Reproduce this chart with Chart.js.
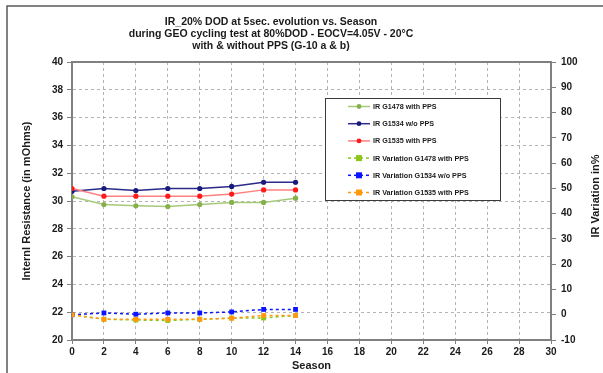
<!DOCTYPE html>
<html>
<head>
<meta charset="utf-8">
<script src="https://cdn.jsdelivr.net/npm/chart.js@4/dist/chart.umd.min.js"></script>
<style>
  html, body { margin: 0; padding: 0; background: #fff; }
  #wrap { width: 603px; height: 373px; position: relative; }
</style>
</head>
<body>
<div id="wrap"><canvas id="c"></canvas></div>
<script>
/* IR 20% DOD evolution vs season - GEO cycling */
var TITLE_LINES = [
  'IR_20% DOD at 5sec. evolution vs. Season',
  'during GEO cycling test at 80%DOD - EOCV=4.05V - 20°C',
  'with & without PPS (G-10 a & b)'
];
var SEASONS = [0, 2, 4, 6, 8, 10, 12, 14];

// internal resistance, mOhms (left axis)
var IR_G1478 = [30.3, 29.75, 29.65, 29.6, 29.75, 29.9, 29.9, 30.2];
var IR_G1534 = [30.7, 30.9, 30.75, 30.9, 30.9, 31.05, 31.35, 31.35];
var IR_G1535 = [30.9, 30.35, 30.35, 30.35, 30.35, 30.5, 30.8, 30.8];

// IR variation, % (right axis)
var VAR_G1478 = [0, -1.8, -2.1, -2.3, -1.8, -1.3, -1.3, -0.3];
var VAR_G1534 = [0, 0.7, 0.2, 0.7, 0.7, 1.1, 2.1, 2.1];
var VAR_G1535 = [0, -1.8, -1.8, -1.8, -1.8, -1.4, -0.3, -0.3];

var LABELS = [
  'IR G1478 with PPS', 'IR G1534 w/o PPS', 'IR G1535 with PPS',
  'IR Variation G1478 with PPS', 'IR Variation G1534 w/o PPS', 'IR Variation G1535 with PPS'
];

var FONT = 'Liberation Sans, Arial, Helvetica, sans-serif';
var TXT = '#1a1a1a';

function pts(vals) {
  return vals.map(function (v, i) { return { x: SEASONS[i], y: v }; });
}

function irSet(label, vals, line, dot, order) {
  return {
    label: label, data: pts(vals), yAxisID: 'y', order: order,
    borderColor: line, backgroundColor: dot, borderWidth: 1.5,
    pointStyle: 'circle', pointRadius: 2.6, pointBackgroundColor: dot, pointBorderColor: dot, pointBorderWidth: 0,
    tension: 0
  };
}
function varSet(label, vals, col, order) {
  return {
    label: label, data: pts(vals), yAxisID: 'y2', order: order,
    borderColor: col, backgroundColor: col, borderWidth: 1.5, borderDash: [3, 3],
    pointStyle: 'rect', pointRadius: 3.4, pointBackgroundColor: col, pointBorderColor: col, pointBorderWidth: 0,
    tension: 0
  };
}

var datasets = [
  irSet(LABELS[0], IR_G1478, '#a6c97a', '#86b04a', 6),
  irSet(LABELS[1], IR_G1534, '#2a2a8a', '#1a1a7a', 5),
  irSet(LABELS[2], IR_G1535, '#ff8080', '#ff1a1a', 4),
  varSet(LABELS[3], VAR_G1478, '#8cc61a', 3),
  varSet(LABELS[4], VAR_G1534, '#0a14ff', 2),
  varSet(LABELS[5], VAR_G1535, '#ff9a10', 1)
];

// frame, title, top border, right title, legend box
var decor = {
  id: 'decor',
  beforeDraw: function (chart) {
    var ctx = chart.ctx;
    ctx.save();
    ctx.fillStyle = '#fff';
    ctx.fillRect(0, 0, chart.width, chart.height);
    ctx.strokeStyle = '#5a5a5a';
    ctx.lineWidth = 1.5;
    ctx.beginPath();
    ctx.moveTo(7, chart.height + 2);
    ctx.lineTo(7, 6);
    ctx.lineTo(chart.width + 2, 6);
    ctx.stroke();
    ctx.restore();
  },
  afterDraw: function (chart) {
    var ctx = chart.ctx, a = chart.chartArea;
    ctx.save();
    // top border of plot area
    ctx.strokeStyle = '#808080';
    ctx.lineWidth = 2;
    ctx.beginPath();
    ctx.moveTo(a.left, a.top);
    ctx.lineTo(a.right, a.top);
    ctx.stroke();

    // title
    ctx.fillStyle = TXT;
    ctx.font = 'bold 10.5px ' + FONT;
    ctx.textAlign = 'center';
    ctx.textBaseline = 'middle';
    TITLE_LINES.forEach(function (t, i) { ctx.fillText(t, 271, 22 + i * 12); });

    // right axis title, reading bottom to top
    ctx.save();
    ctx.translate(596, 196);
    ctx.rotate(-Math.PI / 2);
    ctx.font = 'bold 11px ' + FONT;
    ctx.fillText('IR Variation in%', 0, 0);
    ctx.restore();

    // legend
    var bx = 325, by = 98, bw = 175, bh = 102;
    ctx.fillStyle = '#fff';
    ctx.fillRect(bx, by, bw, bh);
    ctx.strokeStyle = '#3a3a3a';
    ctx.lineWidth = 1;
    ctx.strokeRect(bx + 0.5, by + 0.5, bw, bh);
    ctx.font = 'bold 7.2px ' + FONT;
    ctx.textAlign = 'left';
    chart.data.datasets.forEach(function (ds, i) {
      var y = 106.5 + i * 17.2;
      ctx.strokeStyle = ds.borderColor;
      ctx.lineWidth = ds.borderWidth;
      ctx.setLineDash(ds.borderDash || []);
      ctx.beginPath();
      ctx.moveTo(348, y);
      ctx.lineTo(370, y);
      ctx.stroke();
      ctx.setLineDash([]);
      ctx.fillStyle = ds.pointBackgroundColor;
      if (ds.pointStyle === 'rect') {
        ctx.fillRect(359 - 3, y - 3, 6, 6);
      } else {
        ctx.beginPath();
        ctx.arc(359, y, 2.4, 0, Math.PI * 2);
        ctx.fill();
      }
      ctx.fillStyle = TXT;
      ctx.fillText(ds.label, 373, y + 0.5);
    });
    ctx.restore();
  }
};

Chart.defaults.font.family = FONT;
Chart.defaults.color = TXT;

new Chart(document.getElementById('c').getContext('2d'), {
  type: 'line',
  data: { datasets: datasets },
  plugins: [decor],
  options: {
    responsive: true, maintainAspectRatio: false, animation: false,
    layout: { padding: { left: 0, top: 62, right: 0, bottom: 0 } },
    plugins: { legend: { display: false }, title: { display: false }, tooltip: { enabled: false } },
    scales: {
      x: {
        type: 'linear', min: 0, max: 30,
        ticks: { stepSize: 2, padding: 2, font: { size: 10, weight: 'bold' }, maxRotation: 0 },
        grid: { color: '#b4b4b4', tickLength: 4, tickColor: '#808080', tickBorderDash: [] },
        border: { color: '#808080', width: 2, dash: [3, 3] },
        title: { display: true, text: 'Season', font: { size: 11, weight: 'bold' }, padding: { top: 0, bottom: 0 } },
        afterFit: function (s) { s.height = 33; }
      },
      y: {
        type: 'linear', position: 'left', min: 20, max: 40,
        ticks: { stepSize: 2, padding: 4, font: { size: 10, weight: 'bold' } },
        grid: { color: '#b4b4b4', tickLength: 5, tickColor: '#808080', tickBorderDash: [] },
        border: { color: '#808080', width: 2, dash: [3, 3] },
        title: { display: true, text: 'Internl Resistance (in mOhms)', font: { size: 11, weight: 'bold' }, padding: { top: 20, bottom: 0 } },
        afterFit: function (s) { s.width = 72; }
      },
      y2: {
        type: 'linear', position: 'right', min: -10, max: 100,
        ticks: { stepSize: 10, padding: 5, font: { size: 10, weight: 'bold' } },
        grid: { drawOnChartArea: false, tickLength: 5, color: '#808080' },
        border: { color: '#808080', width: 2 },
        afterFit: function (s) { s.width = 52; }
      }
    }
  }
});
</script>
</body>
</html>
